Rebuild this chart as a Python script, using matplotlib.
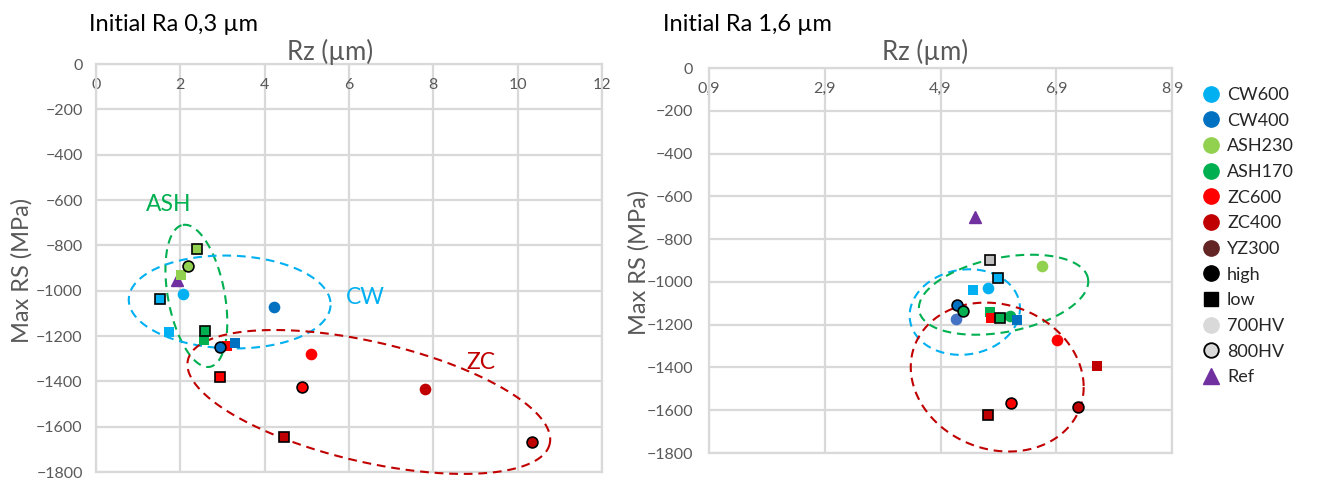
import numpy as np
import matplotlib
matplotlib.use("Agg")
import matplotlib.pyplot as plt
from matplotlib.lines import Line2D

plt.rcParams['font.family'] = ['Lato', 'DejaVu Sans']

# ---------------- data ----------------
materials = ["CW600", "CW400", "ASH230", "ASH170", "ZC600", "ZC400", "YZ300"]
mat_colors = ["#00B0F0", "#0070C0", "#92D050", "#00B050", "#FF0000", "#C00000", "#632523"]

# Left chart: Initial Ra 0,3 um
left_rz = [1.93, 2.39, 2.18, 2.02, 1.52, 2.06, 1.73, 4.22, 2.58, 2.56, 2.93, 3.11, 3.30,
           5.09, 2.93, 4.88, 7.81, 4.47, 10.33]
left_rs = [-955, -815, -892, -933, -1036, -1014, -1183, -1073, -1176, -1218, -1249, -1245, -1230,
           -1278, -1380, -1424, -1436, -1644, -1666]
left_mat = ["Ref", "ASH230", "ASH230", "ASH230", "CW600", "CW600", "CW600", "CW400", "ASH170", "ASH170",
            "CW400", "ZC600", "CW400", "ZC600", "ZC600", "ZC600", "ZC400", "ZC400", "ZC400"]
left_shape = ["tri", "low", "high", "low", "low", "high", "low", "high", "low", "low",
              "high", "low", "low", "high", "low", "high", "high", "low", "high"]
left_hv = [700, 800, 800, 700, 800, 700, 700, 700, 800, 700,
           800, 700, 700, 700, 800, 800, 700, 800, 800]

# Right chart: Initial Ra 1,6 um
right_rz = [5.50, 5.75, 6.66, 5.90, 5.47, 5.72, 5.18, 5.29, 5.17, 5.75, 5.78, 5.92, 6.10, 6.23,
            6.91, 7.61, 6.12, 7.28, 5.72]
right_rs = [-698, -897, -928, -982, -1040, -1029, -1109, -1136, -1175, -1140, -1168, -1167, -1161, -1179,
            -1272, -1393, -1564, -1586, -1621]
right_mat = ["Ref", "Grey", "ASH230", "CW600", "CW600", "CW600", "CW400", "ASH170", "Blue2", "ASH170",
             "ZC600", "ASH170", "ASH170", "CW400", "ZC600", "ZC400", "ZC600", "ZC400", "ZC400"]
right_shape = ["tri", "low", "high", "low", "low", "high", "high", "high", "high", "low",
               "low", "low", "high", "low", "high", "low", "high", "high", "low"]
right_hv = [700, 800, 700, 800, 700, 700, 800, 800, 700, 700,
            700, 800, 700, 700, 700, 700, 800, 800, 800]

legend_labels = materials + ["high", "low", "700HV", "800HV", "Ref"]

color_map = dict(zip(materials, mat_colors))
color_map["Ref"] = "#7030A0"
color_map["Grey"] = "#BFBFBF"
color_map["Blue2"] = "#4472C4"

# annotation ellipses: (center, half-vector a, half-vector b) in data units
left_ellipses = [
    ((2.38, -1023), (-0.32, 313), (0.66, 23), "#00B050"),
    ((3.17, -1050), (2.39, 0), (-0.12, 205), "#00B0F0"),
    ((6.47, -1491), (4.29, -185), (-0.32, -258), "#C00000"),
]
right_ellipses = [
    ((5.32, -1141), (0.95, 0), (0.08, 200), "#00B0F0"),
    ((5.99, -1060), (1.458, 76.7), (0.123, -170.6), "#00B050"),
    ((5.88, -1445), (1.494, -46.8), (0.0, -345), "#C00000"),
]

W, H = 1317, 486
fig = plt.figure(figsize=(W / 100, H / 100), dpi=100)

GRID = "#D9D9D9"
TICKC = "#595959"


def px_rect(l, t, r, b):
    return [l / W, 1 - b / H, (r - l) / W, (b - t) / H]


def style_axes(ax, xlim, xticks, xticklabels, ylabpad, xpad):
    ax.set_xlim(*xlim)
    ax.set_ylim(-1800, 0)
    ax.set_xticks(xticks)
    ax.set_xticklabels(xticklabels)
    ax.set_yticks(np.arange(-1800, 1, 200))
    ax.xaxis.set_ticks_position('top')
    ax.tick_params(axis='x', length=0, pad=xpad, labeltop=True, labelbottom=False,
                   labelsize=11.5, labelcolor=TICKC)
    ax.tick_params(axis='y', length=0, pad=ylabpad, labelsize=11.5, labelcolor=TICKC)
    ax.grid(True, color=GRID, linewidth=1.6)
    ax.set_axisbelow(True)
    for s in ax.spines.values():
        s.set_color(GRID)
        s.set_linewidth(1.6)


def draw_points(ax, xs, ys, mats, shapes, hvs):
    for x, y, m, s, hv in zip(xs, ys, mats, shapes, hvs):
        if s == "tri":
            ax.plot(x, y, marker="^", ms=8, color=color_map[m], mec=color_map[m], ls="none", zorder=4)
            continue
        mk = "o" if s == "high" else "s"
        ms = 7.8 if s == "high" else 7.2
        if hv == 800:
            ax.plot(x, y, marker=mk, ms=ms, mfc=color_map[m], mec="black", mew=1.2, ls="none", zorder=5)
        else:
            ax.plot(x, y, marker=mk, ms=ms + 0.6, mfc=color_map[m], mec=color_map[m], mew=0.0,
                    ls="none", zorder=4)


def draw_ellipses(ax, ells):
    t = np.linspace(0, 2 * np.pi, 400)
    for (c, a, b, col) in ells:
        xs = c[0] + a[0] * np.cos(t) + b[0] * np.sin(t)
        ys = c[1] + a[1] * np.cos(t) + b[1] * np.sin(t)
        ax.plot(xs, ys, color=col, lw=1.5, ls=(0, (4.2, 2.8)), clip_on=False, zorder=3)


# ---------------- left chart ----------------
ax1 = fig.add_axes(px_rect(96, 64, 602, 472))
style_axes(ax1, (0, 12), np.arange(0, 13, 2), [str(v) for v in range(0, 13, 2)], 9.5, -20)
draw_ellipses(ax1, left_ellipses)
draw_points(ax1, left_rz, left_rs, left_mat, left_shape, left_hv)
ax1.text(1.73, -618, "ASH", color="#00B050", fontsize=16.5, ha="center", va="center")
ax1.text(6.40, -1032, "CW", color="#00B0F0", fontsize=16.5, ha="center", va="center")
ax1.text(9.13, -1315, "ZC", color="#C00000", fontsize=16.5, ha="center", va="center")

# ---------------- right chart ----------------
ax2 = fig.add_axes(px_rect(709, 68, 1172, 453))
rticks = [0.9, 2.9, 4.9, 6.9, 8.9]
style_axes(ax2, (0.9, 8.9), rticks, [f"{v:.1f}".replace(".", ",") for v in rticks], 11.5, -20)
draw_ellipses(ax2, right_ellipses)
draw_points(ax2, right_rz, right_rs, right_mat, right_shape, right_hv)

# titles / axis labels
fig.text(89 / W, 1 - 31 / H, "Initial Ra 0,3 µm", fontsize=17, color="black", ha="left", va="baseline")
fig.text(663 / W, 1 - 31 / H, "Initial Ra 1,6 µm", fontsize=17, color="black", ha="left", va="baseline")
fig.text(330 / W, 1 - 52 / H, "Rz (µm)", fontsize=18.5, color=TICKC, ha="center", va="center")
fig.text(925 / W, 1 - 52 / H, "Rz (µm)", fontsize=18.5, color=TICKC, ha="center", va="center")
fig.text(22 / W, 1 - 270 / H, "Max RS (MPa)", fontsize=17, color=TICKC, ha="center", va="center", rotation=90)
fig.text(639 / W, 1 - 262 / H, "Max RS (MPa)", fontsize=17, color=TICKC, ha="center", va="center", rotation=90)

# ---------------- legend ----------------
handles = []
for m, c in zip(materials, mat_colors):
    handles.append(Line2D([], [], marker="o", ls="none", ms=11, mfc=c, mec=c))
handles.append(Line2D([], [], marker="o", ls="none", ms=11, mfc="black", mec="black"))
handles.append(Line2D([], [], marker="s", ls="none", ms=10, mfc="black", mec="black"))
handles.append(Line2D([], [], marker="o", ls="none", ms=11, mfc="#D9D9D9", mec="#D9D9D9"))
handles.append(Line2D([], [], marker="o", ls="none", ms=10.5, mfc="#D9D9D9", mec="black", mew=1.3))
handles.append(Line2D([], [], marker="^", ls="none", ms=11, mfc="#7030A0", mec="#7030A0"))
leg = fig.legend(handles, legend_labels, loc="upper left", bbox_to_anchor=(1200 / W, 1 - 87 / H),
                 frameon=False, fontsize=13, labelspacing=0.535, handletextpad=0.3,
                 handlelength=1.2, borderaxespad=0, borderpad=0)
for t in leg.get_texts():
    t.set_color("#262626")

fig.savefig("out.png", dpi=100)
